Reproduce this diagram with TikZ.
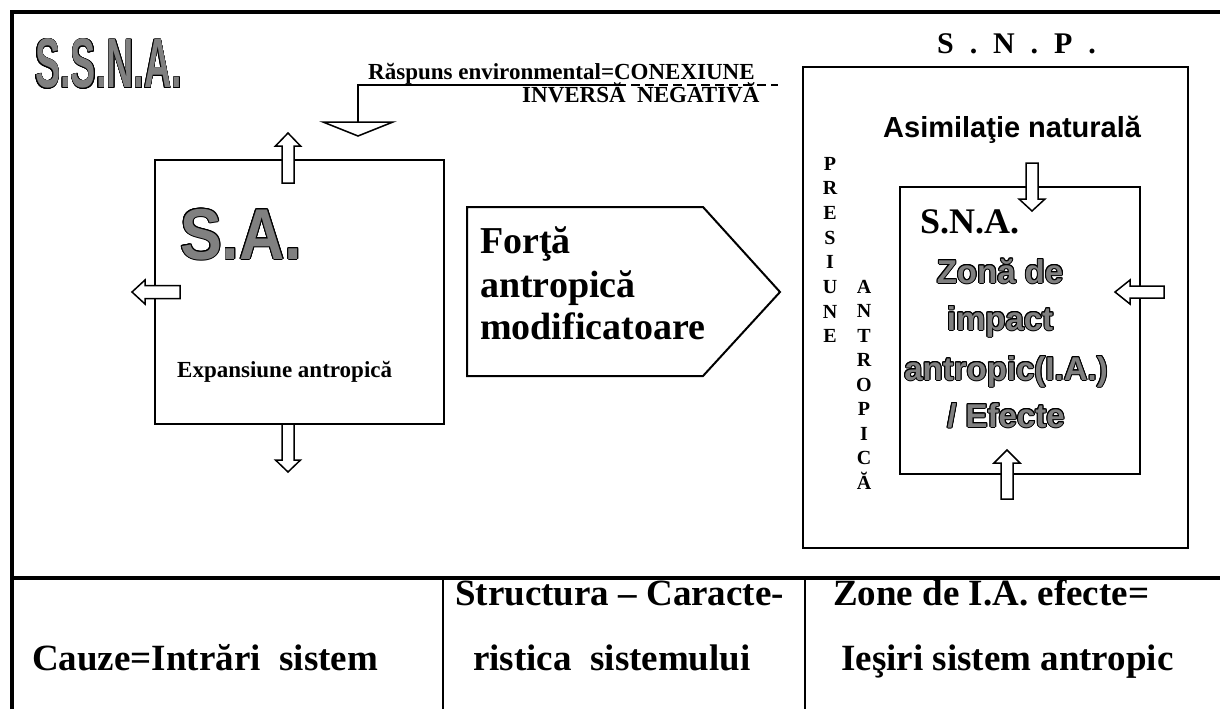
\documentclass[tikz,border=0pt]{standalone}
\usepackage{fontspec}
\setmainfont{Liberation Serif}
\newfontfamily\arialf{Liberation Sans}
\usepackage{contour}
\usetikzlibrary{calc}
\contourlength{1pt}
\definecolor{txtgray}{HTML}{808080}

\newcommand\fsz[1]{\fontsize{#1}{#1}\selectfont}
\newcommand\graytext[1]{\contour{black}{\textcolor{txtgray}{#1}}}

% hollow block arrow: tail, tip, half shaft width, half head width, head length
\newcommand\blockarrow[5]{%
  \coordinate (hb) at ($(#2)!#5!(#1)$);
  \draw[hollow] ($(#1)!#3!90:(#2)$) -- ($(hb)!#3!90:(#2)$) -- ($(hb)!#4!90:(#2)$)
    -- (#2) -- ($(hb)!#4!-90:(#2)$) -- ($(hb)!#3!-90:(#2)$) -- ($(#1)!#3!-90:(#2)$) -- cycle;
}

\tikzset{
  frame/.style={line width=3.2pt},
  divider/.style={line width=1.3pt},
  box/.style={draw, line width=2pt, inner sep=0pt},
  hollow/.style={draw, fill=white, line width=1.5pt, line join=miter},
  lbl/.style={inner sep=0pt, anchor=base west},
  serifb/.style={font=\bfseries\fsz{#1}},
  vlet/.style={inner sep=0pt, anchor=base, font=\bfseries\fsz{20}},
  zone/.style={inner sep=0pt, anchor=base, font=\arialf\bfseries\fsz{33}},
}

\begin{document}
\begin{tikzpicture}[x=1pt,y=-1pt]
\useasboundingbox (0,0) rectangle (1220,709);

% outer frame and the bottom table
\draw[frame] (12,709) -- (12,12) -- (1220,12);
\draw[frame] (12,578) -- (1220,578);
\draw[divider] (443,578) -- (443,709);
\draw[divider] (805,578) -- (805,709);

% title of the whole system
\node[lbl] (ssna) at (35,88) {\scalebox{0.54}[1]{\arialf\bfseries\fsz{70}\graytext{S.S.N.A.}}};

% anthropic system box
\node[box, minimum width=289pt, minimum height=264pt] (sa) at (299.5,292) {};
\node[lbl] (satitle) at (180,259) {\scalebox{0.87}[1]{\arialf\bfseries\fsz{72}\graytext{S.A.}}};
\node[lbl, serifb=23] (expans) at (177,377) {Expansiune antropică};

\coordinate (saUpT) at (288,183);  \coordinate (saUpH) at (288,133);
\coordinate (saLfT) at (180,292);  \coordinate (saLfH) at (132,292);
\coordinate (saDnT) at (288,424);  \coordinate (saDnH) at (288,472);
\blockarrow{saUpT}{saUpH}{6pt}{12.5pt}{13pt}
\blockarrow{saLfT}{saLfH}{6.5pt}{12pt}{13pt}
\blockarrow{saDnT}{saDnH}{6pt}{12.5pt}{12pt}

% feedback: environmental response
\node[lbl, serifb=23] (resp1) at (368,79) {Răspuns environmental=CONEXIUNE};
\node[lbl, serifb=23] (resp2) at (522,102) {INVERSĂ\ \ NEGATIVĂ};
\coordinate (fbTop) at (358,85);
\coordinate (fbMid) at (617,85);
\coordinate (fbEnd) at (778,85);
\coordinate (fbLow) at (358,122);
\draw[line width=2pt] (fbMid) -- (fbTop) -- (fbLow);
\draw[line width=2pt, dash pattern=on 9pt off 5pt] (fbMid) -- (fbEnd);
\draw[hollow] (323,122) -- (393,122) -- (358,136) -- cycle;

% modifying anthropic force
\draw[line width=2pt, line join=miter] (467,207) -- (703,207) -- (780,292) -- (703,376) -- (467,376) -- cycle;
\node[lbl, serifb=38] (force1) at (480,253) {Forţă};
\node[lbl, serifb=38] (force2) at (480,297) {antropică};
\node[lbl, serifb=38] (force3) at (480,339) {modificatoare};

% natural system
\node[lbl, serifb=30] (snp) at (937,53) {S\hspace{0.53em}.\hspace{0.53em}N\hspace{0.53em}.\hspace{0.53em}P\hspace{0.53em}.};
\node[box, minimum width=385pt, minimum height=481pt] (snpbox) at (995.5,307.5) {};
\node[lbl, font=\arialf\bfseries\fsz{29}] (asim) at (883,137) {Asimilaţie naturală};

\foreach \l [count=\i from 0] in {P,R,E,S,I,U,N,E}
  \node[vlet] (pres\i) at (830,170+24.7*\i) {\l};
\foreach \l [count=\i from 0] in {A,N,T,R,O,P,I,C,Ă}
  \node[vlet] (antr\i) at (864,293+24.5*\i) {\l};

\node[box, minimum width=240pt, minimum height=287pt] (sna) at (1020,330.5) {};
\node[lbl, serifb=36] (snatitle) at (920,233) {S.N.A.};
\node[zone] (z1) at (1000,283) {\graytext{Zonă de}};
\node[zone] (z2) at (1000,330) {\graytext{impact}};
\node[zone] (z3) at (1006,380) {\graytext{antropic(I.A.)}};
\node[zone] (z4) at (1006,427) {\graytext{/ Efecte}};

\coordinate (snTopT) at (1032,163);  \coordinate (snTopH) at (1032,211);
\coordinate (snRtT) at (1164,292);   \coordinate (snRtH) at (1115,292);
\coordinate (snBotT) at (1007,499);  \coordinate (snBotH) at (1007,450);
\blockarrow{snTopT}{snTopH}{6pt}{13pt}{12pt}
\blockarrow{snRtT}{snRtH}{6pt}{12pt}{15pt}
\blockarrow{snBotT}{snBotH}{6pt}{13pt}{13pt}

% bottom table texts
\node[lbl, serifb=37] (t1) at (32,670) {Cauze=Intrări\ \ sistem};
\node[lbl, serifb=37] (t2) at (455,605) {Structura – Caracte-};
\node[lbl, serifb=37] (t3) at (473,670) {ristica\ \ sistemului};
\node[lbl, serifb=37] (t4) at (833,605) {Zone de I.A. efecte=};
\node[lbl, serifb=37] (t5) at (841,670) {Ieşiri sistem antropic};
\end{tikzpicture}
\end{document}
